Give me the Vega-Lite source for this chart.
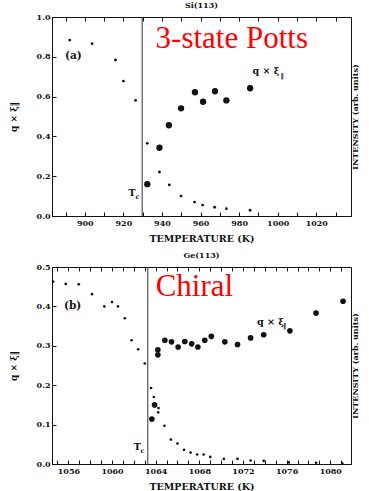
{
  "$schema": "https://vega.github.io/schema/vega-lite/v6.json",
  "padding": {"left": 8, "top": 1, "right": 0, "bottom": 2},
  "background": "white",
  "spacing": 8,
  "config": {
    "view": {"stroke": "#111", "strokeWidth": 1},
    "font": "DejaVu Serif",
    "axis": {"labelFont": "DejaVu Serif", "labelFontWeight": "bold", "labelFontSize": 8, "labelColor": "#111", "titleFont": "DejaVu Serif", "titleFontWeight": "bold", "titleColor": "#111", "domainColor": "#111", "tickColor": "#111", "grid": false},
    "title": {"font": "DejaVu Serif", "fontWeight": "bold", "fontSize": 8, "color": "#111", "offset": 3}
  },
  "vconcat": [
    {
      "width": 299, "height": 199,
      "title": {"text": "Si(113)"},
      "layer": [
        {
          "data": {"values": [
            {"T": 892.2, "v": 0.884}, {"T": 903.8, "v": 0.866}, {"T": 915.9, "v": 0.784}, {"T": 920.0, "v": 0.678}, {"T": 926.3, "v": 0.581},
            {"T": 932.4, "v": 0.365}, {"T": 938.7, "v": 0.221}, {"T": 943.8, "v": 0.156}, {"T": 949.9, "v": 0.1}, {"T": 956.9, "v": 0.07},
            {"T": 961.1, "v": 0.055}, {"T": 967.3, "v": 0.044}, {"T": 973.4, "v": 0.037}, {"T": 985.7, "v": 0.029}
          ]},
          "mark": {"type": "circle", "color": "#111", "opacity": 1, "size": 8},
          "encoding": {
            "x": {"field": "T", "type": "quantitative", "scale": {"domain": [883, 1038], "nice": false, "zero": false},
              "axis": {"orient": "bottom", "title": "TEMPERATURE (K)", "titleFontSize": 9.5, "titlePadding": 6,
                "values": [890, 900, 910, 920, 930, 940, 950, 960, 970, 980, 990, 1000, 1010, 1020, 1030], "format": "d",
                "labelExpr": "datum.value % 20 == 0 ? datum.label : ''", "labelOverlap": false, "tickSize": -4, "labelPadding": 7}},
            "y": {"field": "v", "type": "quantitative", "scale": {"domain": [0, 1], "nice": false},
              "axis": {"orient": "left", "title": "q × ξ‖", "titleFontSize": 9, "titlePadding": 18,
                "values": [0, 0.2, 0.4, 0.6, 0.8, 1.0], "format": ".1f", "tickSize": -4, "labelPadding": 6}}
          }
        },
        {
          "data": {"values": [
            {"T": 932.4, "v": 0.16}, {"T": 938.7, "v": 0.343}, {"T": 943.6, "v": 0.456}, {"T": 949.9, "v": 0.541}, {"T": 957.1, "v": 0.622},
            {"T": 961.3, "v": 0.574}, {"T": 967.5, "v": 0.627}, {"T": 973.4, "v": 0.581}, {"T": 985.7, "v": 0.642}
          ]},
          "mark": {"type": "circle", "color": "#111", "opacity": 1, "size": 40},
          "encoding": {
            "x": {"field": "T", "type": "quantitative", "axis": null},
            "y": {"field": "v", "type": "quantitative", "axis": null}
          }
        },
        {
          "data": {"values": [{"T": 929.75}]},
          "mark": {"type": "rule", "color": "#333", "strokeWidth": 1},
          "encoding": {"x": {"field": "T", "type": "quantitative", "axis": null}}
        },
        {
          "data": {"values": [{"T": 889.75, "v": 0.804, "label": "(a)"}]},
          "mark": {"type": "text", "align": "left", "baseline": "middle", "font": "DejaVu Serif", "fontWeight": "bold", "fontSize": 10.5, "color": "#111"},
          "encoding": {"x": {"field": "T", "type": "quantitative", "axis": null}, "y": {"field": "v", "type": "quantitative", "axis": null}, "text": {"field": "label"}}
        },
        {
          "data": {"values": [{"T": 936.7, "v": 0.844, "label": "3-state Potts"}]},
          "mark": {"type": "text", "align": "left", "baseline": "alphabetic", "font": "Liberation Serif, Times New Roman, Times, serif", "fontSize": 31, "color": "#ff0000"},
          "encoding": {"x": {"field": "T", "type": "quantitative", "axis": null}, "y": {"field": "v", "type": "quantitative", "axis": null}, "text": {"field": "label"}}
        },
        {
          "data": {"values": [{"T": 986.9, "v": 0.714, "label": "q × ξ"}, {"T": 922.7, "v": 0.098, "label": "T"}]},
          "mark": {"type": "text", "align": "left", "baseline": "alphabetic", "font": "DejaVu Serif", "fontWeight": "bold", "fontSize": 9.5, "color": "#111"},
          "encoding": {"x": {"field": "T", "type": "quantitative", "axis": null}, "y": {"field": "v", "type": "quantitative", "axis": null}, "text": {"field": "label"}}
        },
        {
          "data": {"values": [{"T": 1001.4, "v": 0.693, "label": "‖"}, {"T": 926.3, "v": 0.083, "label": "c"}]},
          "mark": {"type": "text", "align": "left", "baseline": "alphabetic", "font": "DejaVu Serif", "fontWeight": "bold", "fontSize": 6.5, "color": "#111"},
          "encoding": {"x": {"field": "T", "type": "quantitative", "axis": null}, "y": {"field": "v", "type": "quantitative", "axis": null}, "text": {"field": "label"}}
        },
        {
          "data": {"values": [{"T": 900, "v": 0.5}]},
          "mark": {"type": "point", "opacity": 0},
          "encoding": {
            "x": {"field": "T", "type": "quantitative",
              "axis": {"orient": "top", "title": null, "labels": false, "domain": false,
                "values": [890, 900, 910, 920, 930, 940, 950, 960, 970, 980, 990, 1000, 1010, 1020, 1030], "tickSize": -4}},
            "y": {"field": "v", "type": "quantitative",
              "axis": {"orient": "right", "title": "INTENSITY (arb. units)", "titleFontSize": 8, "titleAngle": 270, "titlePadding": 8, "labels": false, "ticks": false, "domain": false}}
          }
        }
      ],
      "resolve": {"axis": {"x": "independent", "y": "independent"}}
    },
    {
      "width": 299, "height": 197,
      "title": {"text": "Ge(113)"},
      "layer": [
        {
          "data": {"values": [
            {"T": 1054.6, "v": 0.463}, {"T": 1055.76, "v": 0.457}, {"T": 1056.95, "v": 0.456}, {"T": 1058.17, "v": 0.431}, {"T": 1059.3, "v": 0.4},
            {"T": 1060.0, "v": 0.411}, {"T": 1060.55, "v": 0.4}, {"T": 1061.17, "v": 0.37}, {"T": 1061.8, "v": 0.314}, {"T": 1062.4, "v": 0.291},
            {"T": 1063.0, "v": 0.255}, {"T": 1063.58, "v": 0.193}, {"T": 1063.83, "v": 0.17}, {"T": 1064.26, "v": 0.142}, {"T": 1064.23, "v": 0.131},
            {"T": 1064.8, "v": 0.097}, {"T": 1065.39, "v": 0.062}, {"T": 1066.0, "v": 0.052}, {"T": 1066.6, "v": 0.036}, {"T": 1067.2, "v": 0.029},
            {"T": 1067.8, "v": 0.024}, {"T": 1068.4, "v": 0.024}, {"T": 1069.0, "v": 0.018}, {"T": 1070.25, "v": 0.013}, {"T": 1071.5, "v": 0.013},
            {"T": 1072.7, "v": 0.009}, {"T": 1073.9, "v": 0.008}, {"T": 1076.2, "v": 0.004}, {"T": 1078.7, "v": 0.003}, {"T": 1081.1, "v": 0.002}
          ]},
          "mark": {"type": "circle", "color": "#111", "opacity": 1, "size": 7},
          "encoding": {
            "x": {"field": "T", "type": "quantitative", "scale": {"domain": [1054.5, 1081.9], "nice": false, "zero": false},
              "axis": {"orient": "bottom", "title": "TEMPERATURE (K)", "titleFontSize": 9.5, "titlePadding": 6,
                "values": [1055, 1056, 1057, 1058, 1059, 1060, 1061, 1062, 1063, 1064, 1065, 1066, 1067, 1068, 1069, 1070, 1071, 1072, 1073, 1074, 1075, 1076, 1077, 1078, 1079, 1080, 1081],
                "labelExpr": "datum.value % 4 == 0 ? datum.label : ''", "format": "d", "labelOverlap": false, "tickSize": -4, "labelPadding": 7}},
            "y": {"field": "v", "type": "quantitative", "scale": {"domain": [0, 0.5], "nice": false},
              "axis": {"orient": "left", "title": "q × ξ‖", "titleFontSize": 9, "titlePadding": 18,
                "values": [0, 0.1, 0.2, 0.3, 0.4, 0.5], "format": ".1f", "tickSize": -4, "labelPadding": 6}}
          }
        },
        {
          "data": {"values": [
            {"T": 1063.65, "v": 0.114}, {"T": 1063.9, "v": 0.15}, {"T": 1064.2, "v": 0.277}, {"T": 1064.2, "v": 0.29}, {"T": 1064.84, "v": 0.314},
            {"T": 1065.45, "v": 0.31}, {"T": 1066.06, "v": 0.297}, {"T": 1066.67, "v": 0.311}, {"T": 1067.3, "v": 0.305}, {"T": 1067.87, "v": 0.297},
            {"T": 1068.5, "v": 0.314}, {"T": 1069.1, "v": 0.324}, {"T": 1070.34, "v": 0.31}, {"T": 1071.5, "v": 0.303}, {"T": 1072.7, "v": 0.32},
            {"T": 1073.9, "v": 0.328}, {"T": 1076.3, "v": 0.338}, {"T": 1078.7, "v": 0.383}, {"T": 1081.17, "v": 0.413}
          ]},
          "mark": {"type": "circle", "color": "#111", "opacity": 1, "size": 32},
          "encoding": {
            "x": {"field": "T", "type": "quantitative", "axis": null},
            "y": {"field": "v", "type": "quantitative", "axis": null}
          }
        },
        {
          "data": {"values": [{"T": 1063.28}]},
          "mark": {"type": "rule", "color": "#333", "strokeWidth": 1},
          "encoding": {"x": {"field": "T", "type": "quantitative", "axis": null}}
        },
        {
          "data": {"values": [{"T": 1055.6, "v": 0.4, "label": "(b)"}]},
          "mark": {"type": "text", "align": "left", "baseline": "middle", "font": "DejaVu Serif", "fontWeight": "bold", "fontSize": 10.5, "color": "#111"},
          "encoding": {"x": {"field": "T", "type": "quantitative", "axis": null}, "y": {"field": "v", "type": "quantitative", "axis": null}, "text": {"field": "label"}}
        },
        {
          "data": {"values": [{"T": 1064.0, "v": 0.4254, "label": "Chiral"}]},
          "mark": {"type": "text", "align": "left", "baseline": "alphabetic", "font": "Liberation Serif, Times New Roman, Times, serif", "fontSize": 31, "color": "#ff0000"},
          "encoding": {"x": {"field": "T", "type": "quantitative", "axis": null}, "y": {"field": "v", "type": "quantitative", "axis": null}, "text": {"field": "label"}}
        },
        {
          "data": {"values": [{"T": 1073.28, "v": 0.3535, "label": "q × ξ"}, {"T": 1062.0, "v": 0.0363, "label": "T"}]},
          "mark": {"type": "text", "align": "left", "baseline": "alphabetic", "font": "DejaVu Serif", "fontWeight": "bold", "fontSize": 9.5, "color": "#111"},
          "encoding": {"x": {"field": "T", "type": "quantitative", "axis": null}, "y": {"field": "v", "type": "quantitative", "axis": null}, "text": {"field": "label"}}
        },
        {
          "data": {"values": [{"T": 1075.67, "v": 0.3455, "label": "‖"}, {"T": 1062.6, "v": 0.0287, "label": "c"}]},
          "mark": {"type": "text", "align": "left", "baseline": "alphabetic", "font": "DejaVu Serif", "fontWeight": "bold", "fontSize": 6.5, "color": "#111"},
          "encoding": {"x": {"field": "T", "type": "quantitative", "axis": null}, "y": {"field": "v", "type": "quantitative", "axis": null}, "text": {"field": "label"}}
        },
        {
          "data": {"values": [{"T": 1060, "v": 0.25}]},
          "mark": {"type": "point", "opacity": 0},
          "encoding": {
            "x": {"field": "T", "type": "quantitative",
              "axis": {"orient": "top", "title": null, "labels": false, "domain": false,
                "values": [1055, 1056, 1057, 1058, 1059, 1060, 1061, 1062, 1063, 1064, 1065, 1066, 1067, 1068, 1069, 1070, 1071, 1072, 1073, 1074, 1075, 1076, 1077, 1078, 1079, 1080, 1081], "tickSize": -4}},
            "y": {"field": "v", "type": "quantitative",
              "axis": {"orient": "right", "title": "INTENSITY (arb. units)", "titleFontSize": 8, "titleAngle": 270, "titlePadding": 8, "labels": false, "ticks": false, "domain": false}}
          }
        }
      ],
      "resolve": {"axis": {"x": "independent", "y": "independent"}}
    }
  ]
}
